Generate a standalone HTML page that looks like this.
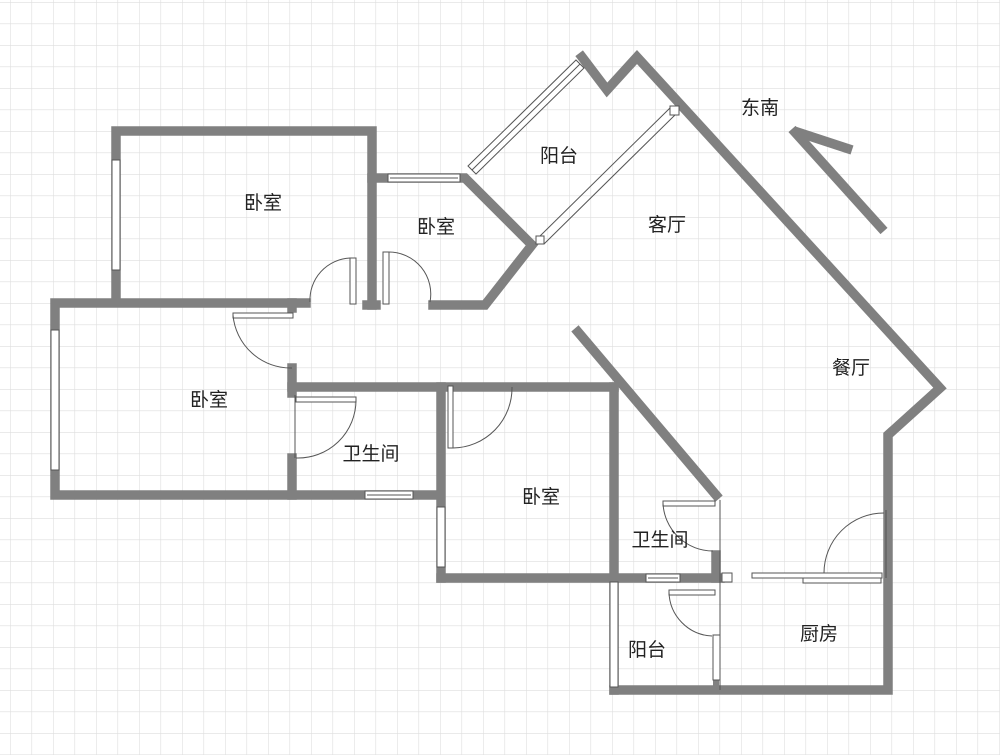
<!DOCTYPE html>
<html><head><meta charset="utf-8"><style>
html,body{margin:0;padding:0;background:#fff;}
svg{display:block;}
text{font-family:"Liberation Sans","Noto Sans CJK SC",sans-serif;font-size:19px;fill:#222;text-anchor:middle;}
</style></head><body>
<svg width="1000" height="755" viewBox="0 0 1000 755" xmlns="http://www.w3.org/2000/svg">
<defs>
<pattern id="g" x="10" y="2" width="21.5" height="21.5" patternUnits="userSpaceOnUse">
<path d="M0 0H21.5M0 0V21.5" stroke="#dedede" stroke-width="1.2" fill="none"/>
</pattern>
</defs>
<rect width="1000" height="755" fill="#fff"/>
<rect width="1000" height="755" fill="url(#g)"/>
<g stroke="#808080" stroke-width="9.5" fill="none" stroke-linecap="square" stroke-linejoin="miter">
<polyline points="116,300 116,131 372,131 372,305"/>
<polyline points="306,303 55,303 55,495 440,495"/>
<line x1="292" y1="368" x2="292" y2="393"/>
<line x1="292" y1="458" x2="292" y2="495"/>
<line x1="292" y1="303" x2="292" y2="308"/>
<line x1="292" y1="387" x2="614" y2="387"/>
<line x1="441" y1="387" x2="441" y2="578"/>
<line x1="441" y1="578" x2="720" y2="578"/>
<line x1="614" y1="387" x2="614" y2="690"/>
<polyline points="372,178 465,178 532,245 485,305 433,305"/>
<line x1="367" y1="305" x2="376" y2="305"/>
<polyline points="582,57 607,90 637,57 940,388 888,435 888,690 614,690"/>
<line x1="578" y1="332" x2="716" y2="495"/>
<line x1="716" y1="555" x2="716" y2="578"/>
<line x1="716" y1="640" x2="716" y2="690" stroke-width="6"/>
<line x1="884" y1="231" x2="792" y2="129" stroke-linecap="butt"/>
<line x1="794" y1="131" x2="852" y2="150" stroke-linecap="butt"/>
</g>
<g fill="#fff" stroke="#555" stroke-width="1">
<rect x="112" y="160" width="8" height="110"/>
<rect x="51" y="330" width="8" height="140"/>
<rect x="388" y="174" width="72" height="8"/>
<rect x="365" y="491" width="48" height="8"/>
<rect x="437" y="507" width="8" height="60"/>
<rect x="646" y="574" width="34" height="8"/>
<rect x="610" y="582" width="8" height="105"/>
<rect x="713" y="635" width="7" height="45"/>
</g>
<g stroke="#555" stroke-width="1" fill="none">
<line x1="390" y1="178" x2="458" y2="178"/><line x1="367" y1="495" x2="411" y2="495"/>
<line x1="648" y1="578" x2="678" y2="578"/>
<polygon points="468,166 576,60 584,68 476,174" fill="#fff"/>
<line x1="472" y1="170" x2="580" y2="64"/>
<line x1="538" y1="238" x2="671" y2="107"/><line x1="544" y1="244" x2="677" y2="113"/>
<rect x="536" y="236" width="8" height="8" fill="#fff"/>
<rect x="670" y="106" width="9" height="9" fill="#fff"/>
<rect x="350" y="258" width="6" height="46" fill="#fff"/>
<path d="M350 258 A 42 42 0 0 0 310 302"/>
<rect x="383" y="252" width="6" height="52" fill="#fff"/>
<path d="M389 252 A 42 42 0 0 1 430 302"/>
<rect x="233" y="313" width="60" height="5" fill="#fff"/>
<path d="M233 315 A 58 58 0 0 0 292 368"/>
<rect x="296" y="397" width="60" height="5" fill="#fff"/>
<path d="M356 400 A 58 58 0 0 1 296 458"/>
<line x1="295" y1="395" x2="295" y2="458"/>
<rect x="448" y="386" width="5" height="62" fill="#fff"/>
<path d="M453 448 A 60 60 0 0 0 512 387"/>
<rect x="663" y="501" width="52" height="5" fill="#fff"/>
<path d="M663 503 A 50 50 0 0 0 713 551"/>
<rect x="669" y="590" width="46" height="5" fill="#fff"/>
<path d="M669 592 A 45 45 0 0 0 712 636"/>
<path d="M884 513 A 60 60 0 0 0 824 573"/>
<rect x="752" y="573" width="130" height="5" fill="#fff"/>
<rect x="803" y="578" width="78" height="5" fill="#fff"/>
<rect x="722" y="573" width="10" height="9" fill="#fff"/>
<line x1="720" y1="500" x2="720" y2="690"/>
<line x1="886" y1="510" x2="886" y2="578"/>
</g>
<text x="263" y="209">卧室</text>
<text x="436" y="233">卧室</text>
<text x="559" y="162">阳台</text>
<text x="667" y="231">客厅</text>
<text x="760" y="114">东南</text>
<text x="851" y="374">餐厅</text>
<text x="209" y="406">卧室</text>
<text x="371" y="460">卫生间</text>
<text x="541" y="503">卧室</text>
<text x="660" y="546">卫生间</text>
<text x="647" y="656">阳台</text>
<text x="819" y="640">厨房</text>
</svg>
</body></html>
